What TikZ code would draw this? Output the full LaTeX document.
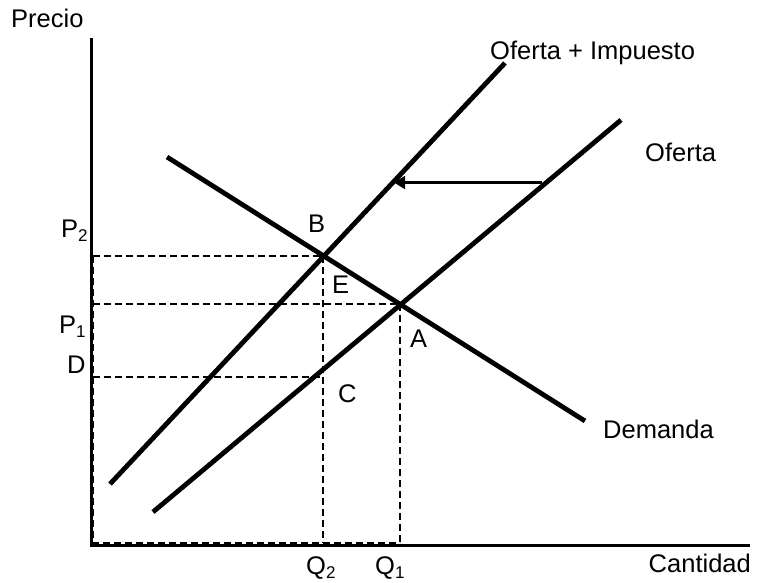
\documentclass[tikz,border=0pt]{standalone}
\usepackage{fontspec}
\setmainfont{Liberation Sans}
\usetikzlibrary{arrows.meta}
\newcommand{\sbs}[1]{\raisebox{-4pt}{\fontsize{17}{17}\selectfont #1}}
\begin{document}
\begin{tikzpicture}[x=1pt,y=-1pt,
  lbl/.style={inner sep=0pt,anchor=base west,font=\fontsize{25.5}{30}\selectfont},
  curve/.style={line width=4.8pt},
  axisline/.style={line width=3pt},
  guide/.style={line width=1.3pt,dash pattern=on 7pt off 4pt},
  shiftarrow/.style={line width=2.2pt,-{Triangle[length=11pt,width=13pt]}}]
\useasboundingbox (0,0) rectangle (763,583);
% axes
\coordinate (ytop) at (91,38);
\coordinate (orig) at (91,545.5);
\coordinate (xend) at (750,545.5);
% curves end points
\coordinate (ti1) at (110,484);
\coordinate (ti2) at (505,63);
\coordinate (of1) at (153,512);
\coordinate (of2) at (621,120);
\coordinate (de1) at (167,157);
\coordinate (de2) at (585,421);
% intersections
\coordinate (B) at (323,256);
\coordinate (A) at (400,304);
\coordinate (C) at (323,377);
% guide ends
\coordinate (yB) at (93,256);
\coordinate (yA) at (93,304);
\coordinate (yC) at (93,377);
\coordinate (xB) at (323,543);
\coordinate (xA) at (400,543);
\coordinate (corner) at (93,543);
% arrow
\coordinate (arS) at (542,182.5);
\coordinate (arE) at (394,182.5);

% dashed guides
\draw[guide] (yB) -- (B);
\draw[guide] (yA) -- (A);
\draw[guide] (yC) -- (C);
\draw[guide] (B) -- (xB);
\draw[guide] (A) -- (xA);
\draw[guide] (yB) -- (corner) -- (xA);

% axes
\draw[axisline] (ytop) -- (orig) -- (xend);

% curves
\draw[curve] (ti1) -- (ti2);
\draw[curve] (of1) -- (of2);
\draw[curve] (de1) -- (de2);

% shift arrow
\draw[shiftarrow] (arS) -- (arE);

% labels
\node[lbl] (lprecio) at (11,28) {Precio};
\node[lbl,anchor=base east] (lcant) at (751,572) {Cantidad};
\node[lbl] (loi) at (490,60) {Oferta + Impuesto};
\node[lbl] (lof) at (645,161) {Oferta};
\node[lbl] (lde) at (603,438) {Demanda};
\node[lbl] (lp2) at (61,237) {P\sbs{2}};
\node[lbl] (lp1) at (59,333) {P\sbs{1}};
\node[lbl] (ld) at (67,373) {D};
\node[lbl] (lb) at (308,232) {B};
\node[lbl] (le) at (332,293) {E};
\node[lbl] (la) at (410,347) {A};
\node[lbl] (lc) at (338,402) {C};
\node[lbl] (lq2) at (306,574) {Q\sbs{2}};
\node[lbl] (lq1) at (375,574) {Q\sbs{1}};
\end{tikzpicture}
\end{document}
